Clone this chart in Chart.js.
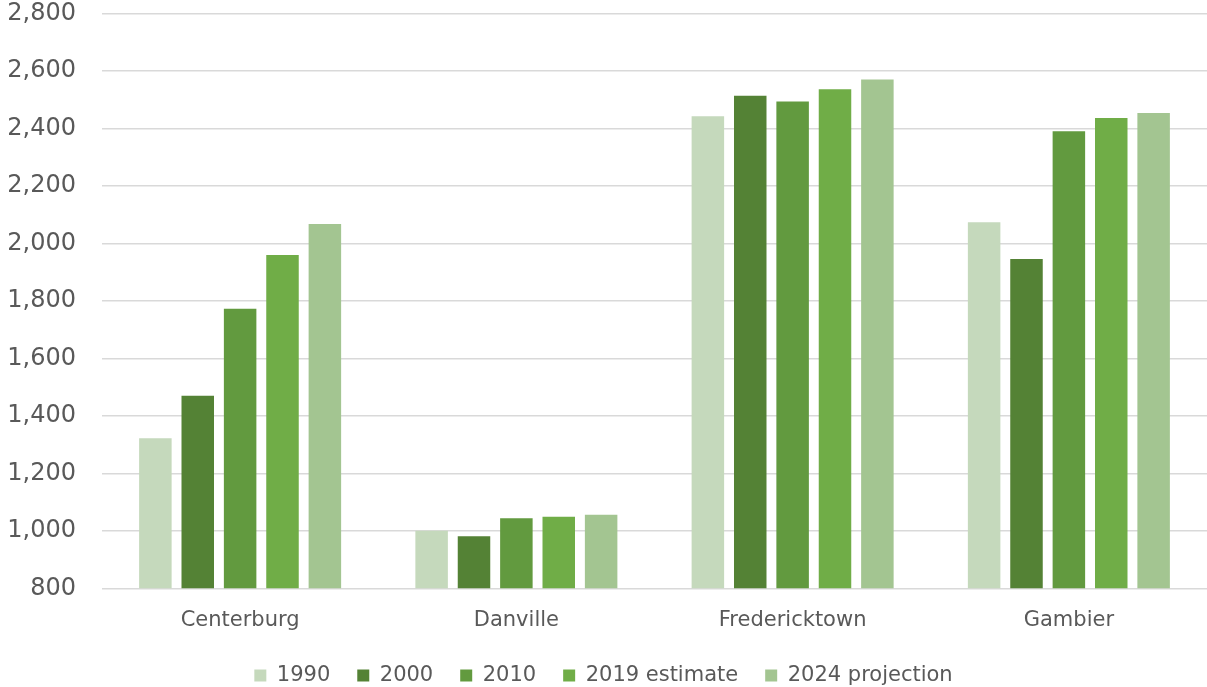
<!DOCTYPE html>
<html>
<head>
<meta charset="utf-8">
<script src="https://cdn.jsdelivr.net/npm/chart.js@4/dist/chart.umd.min.js"></script>
<style>
  html, body { margin: 0; padding: 0; background: #fff; }
  #wrap { width: 1207px; height: 687px; }
</style>
</head>
<body>
<div id="wrap"><canvas id="grafico" width="1207" height="687"></canvas></div>
<script>
const categories = ['Centerburg', 'Danville', 'Fredericktown', 'Gambier'];
const seriesNames = ['1990', '2000', '2010', '2019 estimate', '2024 projection'];
const pop1990 = [1322, 1000, 2442, 2073];
const pop2000 = [1470, 981, 2513, 1945];
const pop2010 = [1772, 1044, 2493, 2390];
const pop2019 = [1959, 1049, 2536, 2436];
const pop2024 = [2067, 1056, 2570, 2453];
const yTicks = [800, 1000, 1200, 1400, 1600, 1800, 2000, 2200, 2400, 2600, 2800];

const cores = ['#c5d9bc', '#548235', '#629a3f', '#70ad47', '#a3c591'];
const valores = [pop1990, pop2000, pop2010, pop2019, pop2024];
const textColor = '#595959';

const ctx = document.getElementById('grafico').getContext('2d');
new Chart(ctx, {
    type: 'bar',
    data: {
        labels: categories,
        datasets: seriesNames.map((nome, i) => ({
            label: nome,
            data: valores[i],
            backgroundColor: cores[i],
            borderWidth: 0,
            categoryPercentage: 0.767,
            barPercentage: 0.767
        }))
    },
    options: {
        responsive: false,
        animation: false,
        devicePixelRatio: 1,
        layout: { padding: 0 },
        plugins: {
            legend: {
                position: 'bottom',
                maxHeight: 49,
                labels: {
                    boxWidth: 12,
                    boxHeight: 12,
                    padding: 27,
                    color: textColor,
                    font: { family: 'DejaVu Sans', size: 21 }
                }
            },
            tooltip: { enabled: false }
        },
        scales: {
            x: {
                grid: { display: false, drawTicks: false },
                border: { display: false },
                ticks: {
                    color: textColor,
                    padding: 20,
                    font: { family: 'DejaVu Sans', size: 21 }
                },
                afterFit: s => { s.height = 49.7; }
            },
            y: {
                min: 800,
                max: 2800,
                afterBuildTicks: s => { s.ticks = yTicks.map(v => ({ value: v })); },
                grid: { color: '#d9d9d9', lineWidth: 1.5, drawTicks: false },
                border: { display: false },
                ticks: {
                    color: textColor,
                    padding: 26,
                    font: { family: 'DejaVu Sans', size: 24, lineHeight: 1.1 },
                    callback: v => v.toLocaleString('en-US')
                },
                afterFit: s => {
                    s.width = 102;
                    s.paddingTop = 13.3;
                    s.paddingBottom = 0;
                }
            }
        }
    }
});
</script>
</body>
</html>
